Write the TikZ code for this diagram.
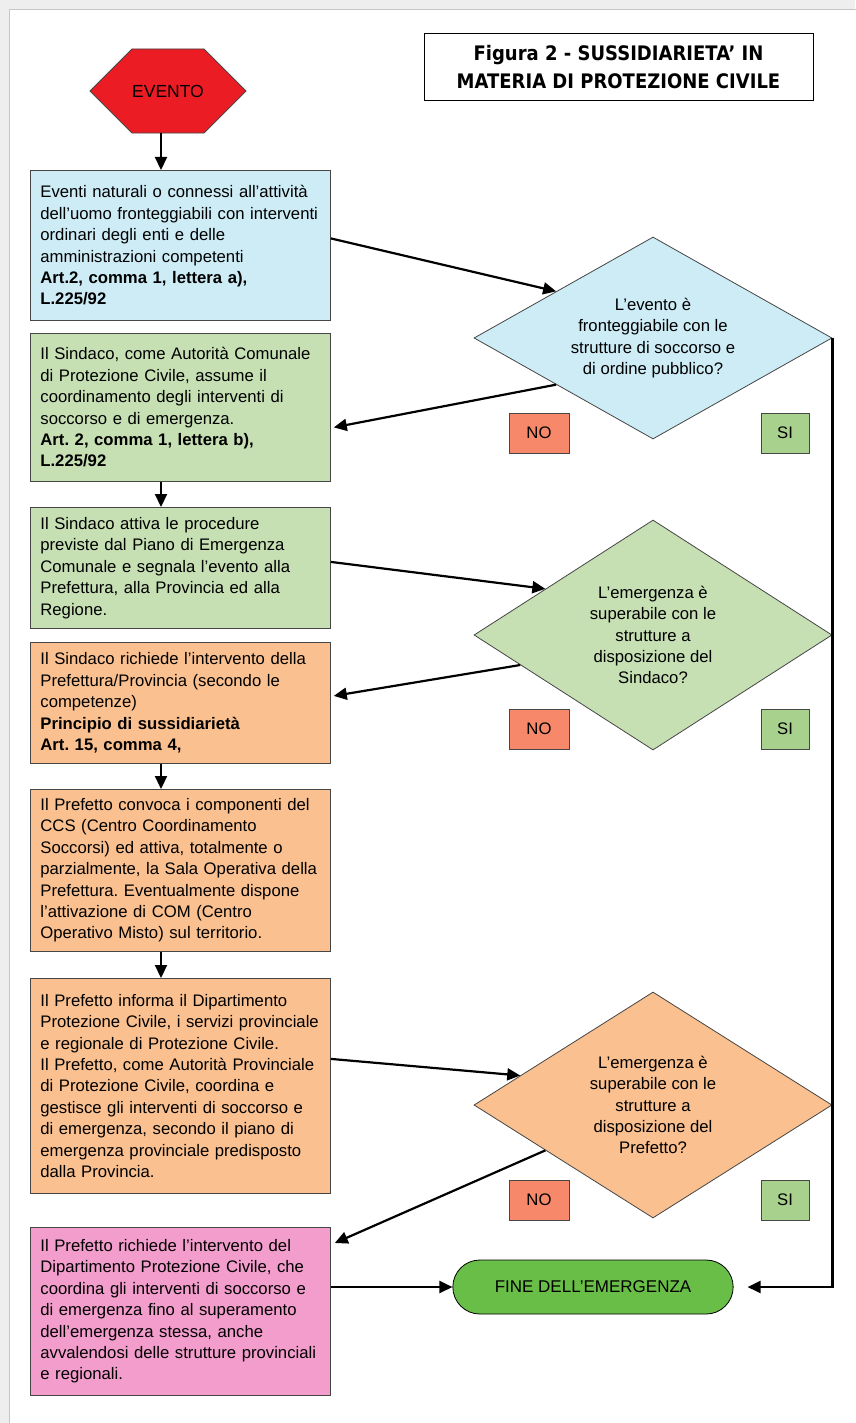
\documentclass[tikz,border=0pt]{standalone}
\usepackage{fontspec}
\setmainfont{Liberation Sans}
\newfontfamily\titlefont{DejaVu Sans}[FakeStretch=0.9]
\usetikzlibrary{positioning,shapes.misc,shapes.geometric,arrows.meta,calc}
\frenchspacing

\definecolor{eventored}{RGB}{236,28,36}
\definecolor{azzurro}{RGB}{205,236,246}
\definecolor{verdino}{RGB}{198,224,180}
\definecolor{arancio}{RGB}{250,192,143}
\definecolor{rosa}{RGB}{243,157,205}
\definecolor{nored}{RGB}{247,136,106}
\definecolor{sigreen}{RGB}{169,209,142}
\definecolor{finegreen}{RGB}{104,190,70}
\definecolor{bordo}{RGB}{70,70,70}
\definecolor{pagegray}{RGB}{238,238,238}

\newcommand\boxfont{\fontsize{16.7}{21.4}\selectfont}

\begin{document}
\begin{tikzpicture}[
  x=1pt,y=-1pt,
  >={Triangle[length=13pt,width=12pt]},
  flow/.style={->,line width=2.2pt},
  passo/.style={draw=bordo,line width=0.8pt,rectangle,anchor=north west,
    minimum width=300pt,text width=280pt,inner xsep=10pt,inner ysep=0pt,
    align=left,font=\boxfont},
  decisione/.style={diamond,draw=bordo,line width=0.8pt,aspect=1.6,
    inner sep=0pt,align=center,font=\boxfont,minimum width=358pt},
  risposta/.style={draw=bordo,line width=0.6pt,minimum height=40pt,
    inner sep=0pt,font=\boxfont}
  ]
  \useasboundingbox (0,0) rectangle (855,1423);
  % page
  \fill[pagegray] (0,0) rectangle (855,1423);
  \filldraw[fill=white,draw=gray!45] (9,9) rectangle (870,1440);
  % title
  \node[draw,line width=1pt,minimum width=389pt,minimum height=67pt,
    align=center,font=\titlefont\bfseries\fontsize{20}{28}\selectfont]
    (titolo) at (618.5,67.5) {Figura 2 - SUSSIDIARIETA’ IN\\MATERIA DI PROTEZIONE CIVILE};
  % start
  \node[chamfered rectangle,chamfered rectangle xsep=31pt,
    chamfered rectangle ysep=40pt,draw=bordo,line width=0.8pt,fill=eventored,
    minimum width=156pt,minimum height=81pt,inner sep=0pt,
    font=\fontsize{17.5}{20}\selectfont] (evento) at (168,91) {\raisebox{-4pt}{EVENTO}};
  % left column
  \node[passo,fill=azzurro,minimum height=150pt] (box1) at (30,170)
    {Eventi naturali o connessi all'attività\\
     dell'uomo fronteggiabili con interventi\\
     ordinari degli enti e delle\\
     amministrazioni competenti\\
     \textbf{Art.2, comma 1, lettera a),}\\
     \textbf{L.225/92}};
  \node[passo,fill=verdino,minimum height=148pt] (box2) at (30,333)
    {Il Sindaco, come Autorità Comunale\\
     di Protezione Civile, assume il\\
     coordinamento degli interventi di\\
     soccorso e di emergenza.\\
     \textbf{Art. 2, comma 1, lettera b),}\\
     \textbf{L.225/92}};
  \node[passo,fill=verdino,minimum height=121pt] (box3) at (30,507)
    {Il Sindaco attiva le procedure\\
     previste dal Piano di Emergenza\\
     Comunale e segnala l'evento alla\\
     Prefettura, alla Provincia ed alla\\
     Regione.};
  \node[passo,fill=arancio,minimum height=121pt] (box4) at (30,642)
    {Il Sindaco richiede l'intervento della\\
     Prefettura/Provincia (secondo le\\
     competenze)\\
     \textbf{Principio di sussidiarietà}\\
     \textbf{Art. 15, comma 4,}};
  \node[passo,fill=arancio,minimum height=162pt] (box5) at (30,789)
    {Il Prefetto convoca i componenti del\\
     CCS (Centro Coordinamento\\
     Soccorsi) ed attiva, totalmente o\\
     parzialmente, la Sala Operativa della\\
     Prefettura. Eventualmente dispone\\
     l'attivazione di COM (Centro\\
     Operativo Misto) sul territorio.};
  \node[passo,fill=arancio,minimum height=215pt] (box6) at (30,978)
    {Il Prefetto informa il Dipartimento\\
     Protezione Civile, i servizi provinciale\\
     e regionale di Protezione Civile.\\
     Il Prefetto, come Autorità Provinciale\\
     di Protezione Civile, coordina e\\
     gestisce gli interventi di soccorso e\\
     di emergenza, secondo il piano di\\
     emergenza provinciale predisposto\\
     dalla Provincia.};
  \node[passo,fill=rosa,minimum height=168pt] (box7) at (30,1227)
    {Il Prefetto richiede l'intervento del\\
     Dipartimento Protezione Civile, che\\
     coordina gli interventi di soccorso e\\
     di emergenza fino al superamento\\
     dell'emergenza stessa, anche\\
     avvalendosi delle strutture provinciali\\
     e regionali.};
  % decisions
  \node[decisione,fill=azzurro,minimum height=202pt] (d1) at (653,338)
    {L'evento è\\fronteggiabile con le\\strutture di soccorso e\\di ordine pubblico?};
  \node[decisione,fill=verdino,minimum height=230pt] (d2) at (653,635)
    {L'emergenza è\\superabile con le\\strutture a\\disposizione del\\Sindaco?};
  \node[decisione,fill=arancio,minimum height=226pt] (d3) at (653,1105)
    {L'emergenza è\\superabile con le\\strutture a\\disposizione del\\Prefetto?};
  % answers
  \node[risposta,fill=nored,minimum width=60pt] (no1) at (539,433) {NO};
  \node[risposta,fill=sigreen,minimum width=48pt] (si1) at (785,433) {SI};
  \node[risposta,fill=nored,minimum width=60pt] (no2) at (539,729) {NO};
  \node[risposta,fill=sigreen,minimum width=48pt] (si2) at (785,729) {SI};
  \node[risposta,fill=nored,minimum width=60pt] (no3) at (539,1200) {NO};
  \node[risposta,fill=sigreen,minimum width=48pt] (si3) at (785,1200) {SI};
  % end
  \node[rounded rectangle,draw=black,line width=0.8pt,fill=finegreen,
    minimum width=287pt,minimum height=54pt,
    font=\fontsize{17}{20}\selectfont] (fine) at (593,1287) {FINE DELL'EMERGENZA};
  % connectors
  \coordinate (col) at (161,0);
  \draw[flow] (evento.south -| col) -- (box1.north -| col);
  \draw[flow] (box2.south -| col) -- (box3.north -| col);
  \draw[flow] (box4.south -| col) -- (box5.north -| col);
  \draw[flow] (box5.south -| col) -- (box6.north -| col);
  \draw[flow] ($(box1.east)+(0,-7)$) -- ($(d1.west)!0.46!(d1.north)$);
  \draw[flow] ($(d1.west)!0.46!(d1.south)$) -- ($(box2.east)+(3,20)$);
  \draw[flow] ($(box3.east)+(0,-6)$) -- ($(d2.west)!0.4!(d2.north)$);
  \draw[flow] ($(d2.west)!0.26!(d2.south)$) -- ($(box4.east)+(3,-7)$);
  \draw[flow] ($(box6.east)+(0,-27)$) -- ($(d3.west)!0.26!(d3.north)$);
  \draw[flow] ($(d3.west)!0.4!(d3.south)$) -- ($(box7.north east)+(4,16)$);
  \draw[flow] (fine.west -| box7.east) -- (fine.west);
  \draw[flow] (d1.east) -- (d1.east |- fine.east) -- ($(fine.east)+(14,0)$);
\end{tikzpicture}
\end{document}
